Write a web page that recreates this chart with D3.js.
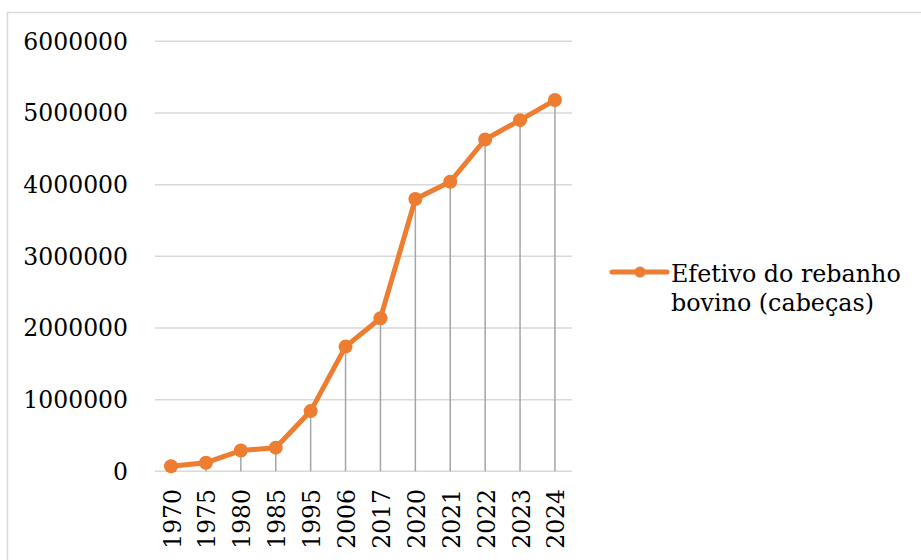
<!DOCTYPE html>
<html><head><meta charset="utf-8">
<script src="https://cdn.jsdelivr.net/npm/d3@7"></script>
<style>body{margin:0;background:#fff}svg{display:block}</style>
</head><body>
<script>
const categories = ["1970","1975","1980","1985","1995","2006","2017","2020","2021","2022","2023","2024"];
const values = [70000,120000,290000,330000,840000,1740000,2135000,3800000,4040000,4630000,4900000,5180000];
const yTicks = [0,1000000,2000000,3000000,4000000,5000000,6000000];
const seriesName = ["Efetivo do rebanho","bovino (cabeças)"];

const W=921,H=560;
const font = "'DejaVu Serif', serif";
const svg = d3.select("body").append("svg").attr("width",W).attr("height",H);
svg.append("rect").attr("x",7.5).attr("y",12.5).attr("width",W).attr("height",H).attr("fill","#fff").attr("stroke","#d9d9d9").attr("stroke-width",1.5);

const x = d3.scaleBand().domain(categories).range([153.6,572.4]);
const y = d3.scaleLinear().domain([0,6000000]).range([471.3,41.3]);
const orange = "#ed7d31";

// gridlines
svg.append("g").selectAll("line").data(yTicks).join("line")
  .attr("x1",155).attr("x2",572).attr("y1",d=>y(d)).attr("y2",d=>y(d))
  .attr("stroke","#d9d9d9").attr("stroke-width",1.5);

// y labels
svg.append("g").selectAll("text").data(yTicks).join("text")
  .attr("x",128).attr("y",d=>y(d)).attr("dy","0.36em").attr("text-anchor","end")
  .attr("font-family",font).attr("font-size",23.5).attr("fill","#000").text(d=>d3.format("d")(d));

// drop lines
const cx = d=>x(d)+x.bandwidth()/2;
svg.append("g").selectAll("line").data(categories).join("line")
  .attr("x1",cx).attr("x2",cx).attr("y1",(d,i)=>y(values[i])).attr("y2",y(0))
  .attr("stroke","#a5a5a5").attr("stroke-width",1.5);

// x labels
svg.append("g").selectAll("text").data(categories).join("text")
  .attr("transform",d=>`translate(${cx(d)+1},489) rotate(-90)`)
  .attr("dy","0.36em").attr("text-anchor","end")
  .attr("font-family",font).attr("font-size",23.5).attr("fill","#000").text(d=>d);

// line
const line = d3.line().x((d,i)=>cx(categories[i])).y(d=>y(d));
svg.append("path").datum(values).attr("d",line).attr("fill","none")
  .attr("stroke",orange).attr("stroke-width",5).attr("stroke-linejoin","round");
svg.append("g").selectAll("circle").data(values).join("circle")
  .attr("cx",(d,i)=>cx(categories[i])).attr("cy",d=>y(d)).attr("r",7).attr("fill",orange);

// legend
const lg = svg.append("g");
lg.append("line").attr("x1",612).attr("x2",667).attr("y1",272).attr("y2",272).attr("stroke",orange).attr("stroke-width",5).attr("stroke-linecap","round");
lg.append("circle").attr("cx",640).attr("cy",272).attr("r",5.5).attr("fill",orange);
lg.selectAll("text").data(seriesName).join("text")
  .attr("x",671).attr("y",(d,i)=>282+i*29)
  .attr("font-family",font).attr("font-size",23.8).attr("fill","#000").text(d=>d);
</script>
</body></html>
